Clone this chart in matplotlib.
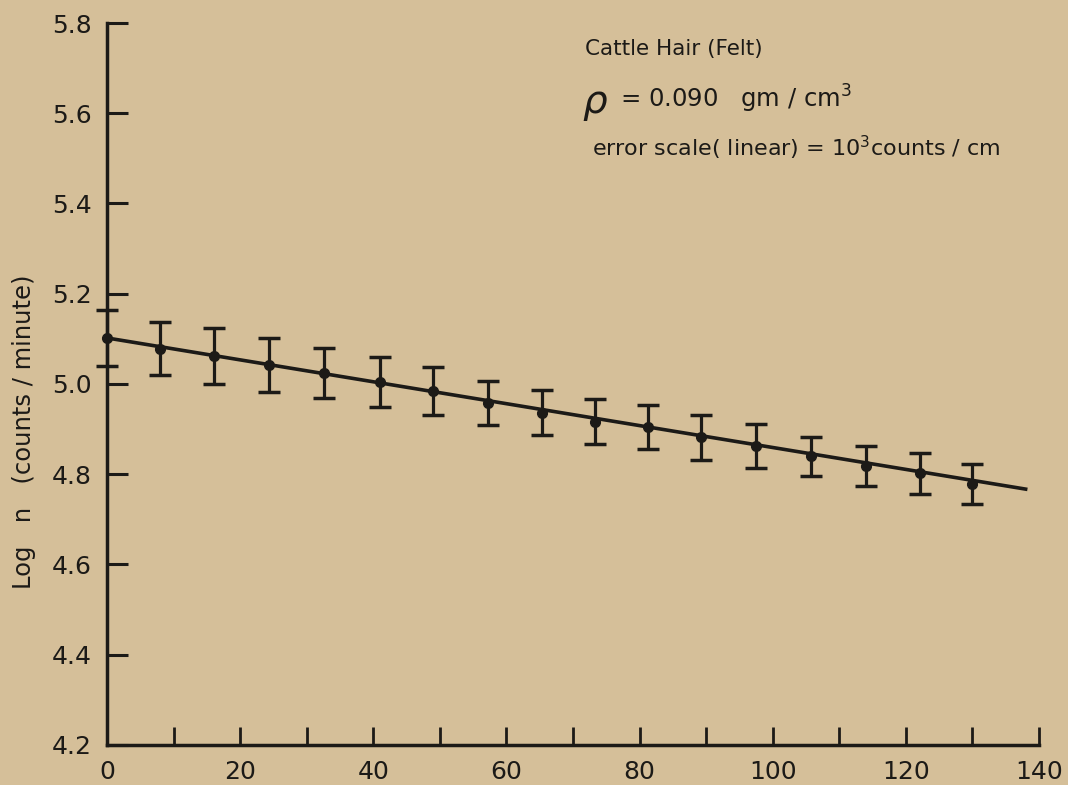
import matplotlib
matplotlib.use("Agg")
import matplotlib.pyplot as plt

# ---- data ----
thickness = [0, 8.0, 16.0, 24.3, 32.6, 41.0, 49.0, 57.3, 65.3, 73.3,
             81.3, 89.3, 97.5, 105.8, 114.0, 122.1, 130.0]
log_n = [5.102, 5.078, 5.062, 5.042, 5.024, 5.004, 4.984, 4.958, 4.936,
         4.916, 4.904, 4.882, 4.862, 4.840, 4.818, 4.802, 4.778]
err = [0.062, 0.059, 0.062, 0.060, 0.056, 0.056, 0.053, 0.048, 0.050,
       0.050, 0.049, 0.050, 0.049, 0.043, 0.045, 0.045, 0.045]
fit_x = [0, 138]
fit_y = [5.102, 4.767]

x_ticks = [0, 10, 20, 30, 40, 50, 60, 70, 80, 90, 100, 110, 120, 130, 140]
x_labels = ["0", "", "20", "", "40", "", "60", "", "80", "", "100", "", "120", "", "140"]
y_ticks = [4.2, 4.4, 4.6, 4.8, 5.0, 5.2, 5.4, 5.6, 5.8]
y_labels = ["4.2", "4.4", "4.6", "4.8", "5.0", "5.2", "5.4", "5.6", "5.8"]

bg = "#d5bf99"
ink = "#1c1a17"

fig = plt.figure(figsize=(10.68, 7.85), dpi=100, facecolor=bg)
ax = fig.add_axes([0.1002, 0.0510, 0.8726, 0.9197], facecolor=bg)

ax.plot(fit_x, fit_y, color=ink, lw=2.6, zorder=2)
ax.errorbar(thickness, log_n, yerr=err, fmt="o", color=ink, ms=7,
            elinewidth=2.3, capsize=8, capthick=2.5, zorder=3, clip_on=False)

ax.set_xlim(0, 140)
ax.set_ylim(4.2, 5.8)
ax.set_xticks(x_ticks)
ax.set_xticklabels(x_labels)
ax.set_yticks(y_ticks)
ax.set_yticklabels(y_labels)

for s in ["top", "right"]:
    ax.spines[s].set_visible(False)
for s in ["left", "bottom"]:
    ax.spines[s].set_linewidth(2.5)
    ax.spines[s].set_color(ink)

ax.tick_params(axis="y", direction="in", length=15, width=2.2, colors=ink,
               labelsize=18, pad=11)
ax.tick_params(axis="x", direction="in", length=13, width=2.0, colors=ink,
               labelsize=18, pad=11)

ax.set_ylabel("Log   n   (counts / minute)", fontsize=17.5, color=ink)
ax.yaxis.set_label_coords(-0.076, 0.434)

ax.text(0.513, 0.955, "Cattle Hair (Felt)", transform=ax.transAxes,
        fontsize=15.5, color=ink)
ax.text(0.51, 0.875, r"$\rho$", transform=ax.transAxes, fontsize=28, color=ink)
ax.text(0.55, 0.883, "= 0.090   gm / cm$^3$", transform=ax.transAxes,
        fontsize=17.5, color=ink)
ax.text(0.52, 0.815, "error scale( linear) = 10$^3$counts / cm",
        transform=ax.transAxes, fontsize=16, color=ink)

fig.savefig("out.png", dpi=100, facecolor=bg)
